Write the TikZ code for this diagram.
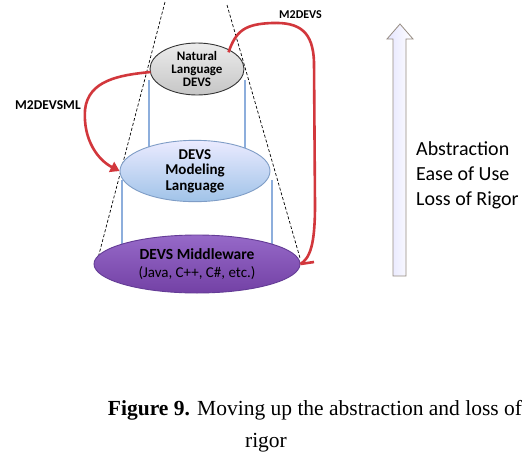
\documentclass[tikz,border=0pt]{standalone}
\usepackage{fontspec}
\setmainfont{Carlito}
\newfontfamily\capfont{Liberation Serif}
\usetikzlibrary{arrows.meta,shapes.geometric}
\definecolor{redln}{HTML}{D2373C}
\definecolor{blueln}{HTML}{8DAEDC}
\tikzset{
  layer/.style={ellipse, inner sep=0pt, align=center, line width=0.9pt},
  redcurve/.style={draw=redln, line width=2.6pt},
  cone/.style={densely dashed, line width=0.7pt, black},
  pillar/.style={draw=blueln, line width=1.1pt},
  lbl/.style={font=\bfseries\fontsize{12}{14}\selectfont, inner sep=0pt}
}
\begin{document}
\begin{tikzpicture}[x=1pt,y=-1pt]
\useasboundingbox (0,0) rectangle (527,461);
\fill[white] (0,0) rectangle (527,461);
% cone lines
\coordinate (cl1) at (165,2);
\coordinate (cl2) at (97,262);
\coordinate (cr1) at (227,5);
\coordinate (cr2) at (300,258);
\draw[cone] (cl1) -- (cl2);
\draw[cone] (cr1) -- (cr2);
% pillars
\coordinate (p1a) at (149,80); \coordinate (p1b) at (149,160);
\coordinate (p2a) at (245,80); \coordinate (p2b) at (245,160);
\coordinate (p3a) at (122,180); \coordinate (p3b) at (122,265);
\coordinate (p4a) at (272,180); \coordinate (p4b) at (272,265);
\draw[pillar] (p1a) -- (p1b);
\draw[pillar] (p2a) -- (p2b);
\draw[pillar] (p3a) -- (p3b);
\draw[pillar] (p4a) -- (p4b);
% layers
\node[layer, minimum width=94pt, minimum height=52pt, draw=black!80,
  top color=gray!15, bottom color=gray!45,
  font=\bfseries\fontsize{13}{13}\selectfont] (nl) at (197,69)
  {Natural\\Language\\DEVS};
\node[layer, minimum width=150pt, minimum height=58pt, draw=blueln!90!black,
  top color=blue!8!white, bottom color={rgb,255:red,160;green,195;blue,232},
  font=\bfseries\fontsize{15}{15.5}\selectfont] (ml) at (195,171)
  {DEVS\\Modeling\\Language};
\node[layer, minimum width=206pt, minimum height=58pt, draw={rgb,255:red,100;green,60;blue,150},
  top color={rgb,255:red,150;green,105;blue,200}, bottom color={rgb,255:red,115;green,65;blue,165},
  font=\fontsize{15}{18}\selectfont] (mw) at (197,264)
  {\textbf{\fontsize{15.5}{18}\selectfont DEVS Middleware}\\(Java, C++, C\#, etc.)};
% red curves
\draw[redcurve] (nl.north east) ++(-2,2) coordinate (s1)
  .. controls (236,30) and (246,24) .. (272,23)
  .. controls (300,22) and (313,32) .. (314,62)
  -- (315,205)
  .. controls (315,245) and (310,258) .. (mw.east);
\coordinate (tk) at (314,262);
\draw[redcurve] (mw.east) -- (tk);
\draw[redcurve, -{Triangle[length=9pt,width=11pt]}] (nl.west) ++(1,3)
  .. controls (120,75) and (88,80) .. (85,110)
  .. controls (83,140) and (98,160) .. (ml.west);
\node[lbl, anchor=west] (m2d) at (279,15) {M2DEVS};
\node[lbl, anchor=west, font=\bfseries\fontsize{13.5}{15}\selectfont] (m2dml) at (15,105) {M2DEVSML};
% big arrow
\draw[draw={rgb,255:red,150;green,140;blue,130}, line width=0.8pt,
  left color=blue!10!white, right color=white]
  (393,276) -- (393,39) -- (387,39) -- (400,24) -- (413,39) -- (406,39) -- (406,276) -- cycle;
\node[anchor=west, align=left, inner sep=0pt, font=\fontsize{20}{25}\selectfont] (txt) at (416,175)
  {Abstraction\\Ease of Use\\Loss of Rigor};
% caption
\node[inner sep=0pt, font=\capfont\fontsize{21.5}{24}\selectfont] (cap1) at (315,410)
  {\textbf{Figure 9.} Moving up the abstraction and loss of};
\node[inner sep=0pt, font=\capfont\fontsize{21.5}{24}\selectfont] (cap2) at (266,443) {rigor};
\end{tikzpicture}
\end{document}
